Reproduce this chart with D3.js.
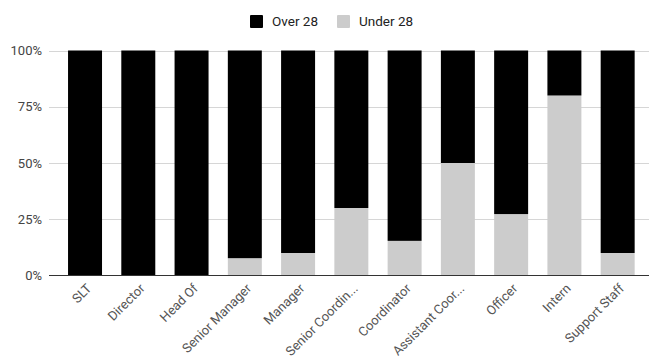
<!DOCTYPE html>
<html>
<head>
<meta charset="utf-8">
<script src="https://cdn.jsdelivr.net/npm/d3@7"></script>
<style>
  html, body { margin: 0; padding: 0; background: #fff; }
  svg { display: block; font-family: Roboto, "Noto Sans", sans-serif; }
</style>
</head>
<body>
<svg id="chart" width="649" height="360"></svg>
<script>
// Roles, as printed under the bars
const categories = ["SLT", "Director", "Head Of", "Senior Manager", "Manager",
  "Senior Coordin...", "Coordinator", "Assistant Coor...", "Officer", "Intern", "Support Staff"];
// Share of staff aged under 28 in each role (%)
const under28 = [0, 0, 0, 7.7, 10, 30, 15.4, 50, 27.3, 80, 10];
// Share of staff aged over 28 in each role (%)
const over28 = under28.map(v => 100 - v);
const seriesNames = ["Over 28", "Under 28"];
const seriesColors = ["#000000", "#cccccc"];
const yTicks = [0, 25, 50, 75, 100];

const svg = d3.select("#chart");

const x = d3.scaleBand().domain(categories).range([58.4, 644.3])
  .paddingInner(0.362).paddingOuter(0.181);
const y = d3.scaleLinear().domain([0, 100]).range([275.5, 50.5]);

// gridlines
svg.append("g").selectAll("line").data(yTicks.filter(t => t > 0)).join("line")
  .attr("x1", 49).attr("x2", 649)
  .attr("y1", d => Math.round(y(d)) + 0.5).attr("y2", d => Math.round(y(d)) + 0.5)
  .attr("stroke", "#d6d6d6").attr("stroke-width", 1);

// y-axis labels
svg.append("g").selectAll("text").data(yTicks).join("text")
  .attr("x", 42).attr("y", d => y(d)).attr("dy", "0.35em")
  .attr("text-anchor", "end").attr("font-size", 13).attr("fill", "#444")
  .text(d => d + "%");

// stacked bars: under 28 at the bottom, over 28 on top
const rows = categories.map((c, i) => ({ cat: c, under: under28[i], over: over28[i] }));
const stack = d3.stack().keys(["under", "over"])(rows);
const colorOf = { under: seriesColors[1], over: seriesColors[0] };

svg.append("g").selectAll("g").data(stack).join("g")
  .attr("fill", d => colorOf[d.key])
  .selectAll("rect").data(d => d).join("rect")
  .attr("x", d => x(d.data.cat))
  .attr("width", x.bandwidth())
  .attr("y", d => y(d[1]))
  .attr("height", d => y(d[0]) - y(d[1]));

// baseline
svg.append("line").attr("x1", 49).attr("x2", 649)
  .attr("y1", 275.5).attr("y2", 275.5)
  .attr("stroke", "#333").attr("stroke-width", 1);

// x-axis labels, slanted
svg.append("g").selectAll("text").data(categories).join("text")
  .attr("transform", d => `translate(${x(d) + x.bandwidth() / 2 + 4},${286}) rotate(-45)`)
  .attr("text-anchor", "end").attr("dy", "0.35em")
  .attr("font-size", 13).attr("fill", "#555")
  .text(d => d);

// legend
const legend = svg.append("g");
const legendItems = [
  { name: seriesNames[0], color: seriesColors[0], x: 250 },
  { name: seriesNames[1], color: seriesColors[1], x: 337 }
];
legendItems.forEach(it => {
  legend.append("rect").attr("x", it.x).attr("y", 15).attr("width", 13).attr("height", 13)
    .attr("rx", 1).attr("fill", it.color);
  legend.append("text").attr("x", it.x + 22).attr("y", 21.5).attr("dy", "0.35em")
    .attr("font-size", 13.5).attr("fill", "#222").text(it.name);
});
</script>
</body>
</html>
